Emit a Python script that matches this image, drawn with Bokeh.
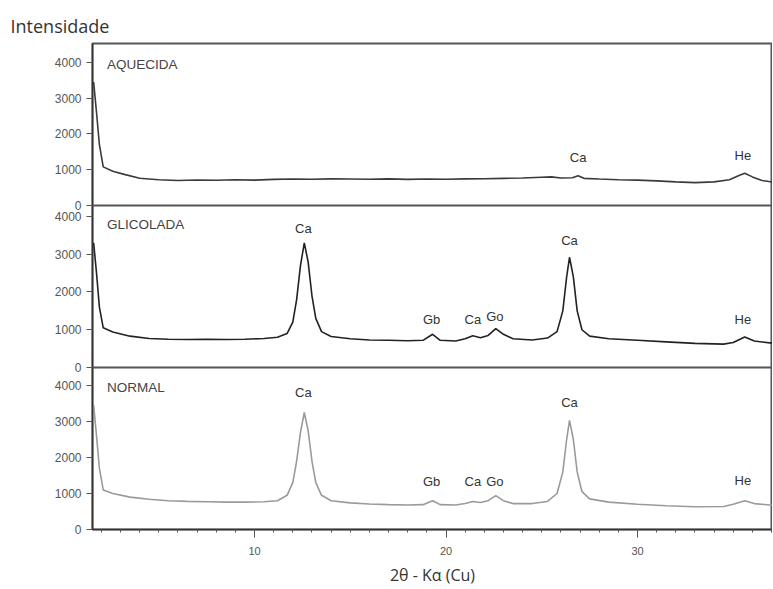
from bokeh.plotting import figure
from bokeh.models import Range1d, FixedTicker, Title, ColumnDataSource, Span
from bokeh.core.properties import value
from bokeh.embed import file_html
from bokeh.resources import INLINE

# ---------------- data ----------------
aq_x = [1.6, 1.75, 1.9, 2.1, 2.6, 3.2, 4.0, 5, 6, 7, 8, 9, 10, 11, 12, 13, 14, 15, 16, 17, 18, 19, 20,
        21, 22, 23, 24, 25, 25.5, 26, 26.6, 26.9, 27.2, 28, 29, 30, 31, 32, 33, 34, 34.8, 35.3, 35.6,
        36.0, 36.5, 37.1]
aq_y = [3450, 2600, 1700, 1080, 960, 870, 760, 720, 700, 715, 705, 720, 710, 730, 740, 735, 745, 740,
        735, 745, 730, 740, 735, 745, 750, 760, 770, 790, 800, 770, 775, 830, 760, 740, 720, 710, 690,
        660, 640, 660, 720, 840, 900, 800, 700, 650]

gl_x = [1.6, 1.75, 1.9, 2.1, 2.6, 3.5, 4.5, 5.5, 6.5, 7.5, 8.5, 9.5, 10.5, 11.2, 11.7, 12.0, 12.2, 12.4,
        12.6, 12.8, 13.0, 13.2, 13.5, 14.0, 15, 16, 17, 18, 18.8, 19.3, 19.7, 20.5, 21.0, 21.4, 21.8,
        22.2, 22.6, 23.0, 23.5, 24.5, 25.3, 25.8, 26.1, 26.3, 26.45, 26.65, 26.85, 27.1, 27.5, 28.5,
        30, 31.5, 33, 34.5, 35.0, 35.6, 36.1, 37.1]
gl_y = [3300, 2500, 1600, 1050, 940, 830, 770, 750, 740, 745, 740, 750, 770, 800, 900, 1200, 1800, 2700,
        3300, 2800, 1900, 1300, 950, 820, 760, 730, 720, 710, 720, 880, 720, 700, 760, 840, 790, 850,
        1030, 880, 760, 730, 780, 950, 1500, 2400, 2920, 2400, 1500, 1000, 830, 760, 720, 680, 640,
        620, 660, 810, 700, 640]

no_x = gl_x
no_y = [3450, 2600, 1700, 1100, 1000, 900, 840, 800, 780, 770, 760, 760, 770, 800, 950, 1300, 1900, 2700,
        3250, 2750, 1900, 1300, 950, 800, 740, 710, 690, 680, 690, 800, 690, 680, 720, 780, 750, 800,
        940, 800, 720, 720, 780, 1000, 1600, 2500, 3030, 2500, 1600, 1050, 850, 760, 700, 660, 630,
        640, 700, 800, 720, 670]

panel_names = ["AQUECIDA", "GLICOLADA", "NORMAL"]
panel_name_y = [3950, 3800, 3950]

aq_lab = ["Ca", "He"]
aq_lab_x = [26.9, 35.5]
aq_lab_y = [1340, 1400]

gl_lab = ["Ca", "Gb", "Ca", "Go", "Ca", "He"]
gl_lab_x = [12.55, 19.25, 21.4, 22.55, 26.45, 35.5]
gl_lab_y = [3680, 1260, 1260, 1340, 3370, 1260]

no_lab = ["Ca", "Gb", "Ca", "Go", "Ca", "He"]
no_lab_x = [12.55, 19.25, 21.4, 22.55, 26.45, 35.5]
no_lab_y = [3800, 1330, 1330, 1330, 3530, 1360]

y_ticks = [0, 1000, 2000, 3000, 4000]
panel_tops = [4531, 4291, 4500]        # visible top of each panel's intensity scale
x_ticks = [10, 20, 30]
x_minor = list(range(2, 38))

FONT = "Liberation Sans"
N = 3

p = figure(width=772, height=589, x_range=Range1d(1.54, 37.05), y_range=Range1d(0, N),
           output_backend="svg", toolbar_location=None,
           min_border_left=92, min_border_right=0, min_border_top=43, min_border_bottom=60)
p.grid.visible = False
p.outline_line_color = "#555555"
p.outline_line_width = 2

panels = [
    (aq_x, aq_y, "#3a3a3a", aq_lab, aq_lab_x, aq_lab_y),
    (gl_x, gl_y, "#222222", gl_lab, gl_lab_x, gl_lab_y),
    (no_x, no_y, "#9a9a9a", no_lab, no_lab_x, no_lab_y),
]

tick_pos = []
overrides = {}
for i, (xs, ys, color, labs, lx, ly) in enumerate(panels):
    b = N - 1 - i                       # slot from bottom
    T = panel_tops[i]
    name = "panel%d" % i
    p.extra_y_ranges[name] = Range1d(-b * T, (N - b) * T)
    p.line(xs, ys, line_color=color, line_width=1.6, y_range_name=name)
    p.text(x=[2.3], y=[panel_name_y[i]], text=[panel_names[i]], text_font=value(FONT),
           text_font_size="13.5px", text_color="#444444", text_align="left",
           text_baseline="middle", y_range_name=name)
    src = ColumnDataSource(dict(x=lx, y=ly, t=labs))
    p.text(x="x", y="y", text="t", source=src, text_font=value(FONT), text_font_size="13px",
           text_color="#333333", text_align="center", text_baseline="middle", y_range_name=name)
    for v in y_ticks:
        pos = round(b + v / T, 6)
        tick_pos.append(pos)
        overrides[pos] = str(v)
    if b > 0:
        p.add_layout(Span(location=b, dimension="width", line_color="#555555", line_width=2))

ya = p.yaxis[0]
ya.ticker = FixedTicker(ticks=tick_pos)
ya.major_label_overrides = overrides
ya.minor_tick_line_color = None
ya.major_tick_out = 6
ya.major_tick_in = 0
ya.axis_line_color = "#333333"
ya.axis_line_width = 1.5
ya.major_tick_line_color = "#555555"
ya.major_label_text_font = FONT
ya.major_label_text_font_size = "12px"
ya.major_label_text_color = "#555555"
ya.major_label_standoff = 5

xa = p.xaxis[0]
xa.ticker = FixedTicker(ticks=x_ticks, minor_ticks=x_minor)
xa.major_tick_out = 8
xa.major_tick_in = 0
xa.minor_tick_out = 3
xa.minor_tick_in = 0
xa.axis_line_color = "#333333"
xa.axis_line_width = 1.5
xa.major_tick_line_color = "#555555"
xa.minor_tick_line_color = "#555555"
xa.major_label_text_font = FONT
xa.major_label_text_font_size = "11px"
xa.major_label_text_color = "#555555"
xa.major_label_standoff = 9
xa.axis_label = "2θ - Kα (Cu)"
xa.axis_label_text_font = "Open Sans"
xa.axis_label_text_font_style = "normal"
xa.axis_label_text_font_size = "16px"
xa.axis_label_text_color = "#333333"
xa.axis_label_standoff = 6

p.add_layout(Title(text="Intensidade", align="left", offset=-82, text_font="Open Sans",
                   text_font_size="18px", text_font_style="normal", text_color="#333333",
                   standoff=12), "above")

open("out.html", "w").write(file_html(p, INLINE))
